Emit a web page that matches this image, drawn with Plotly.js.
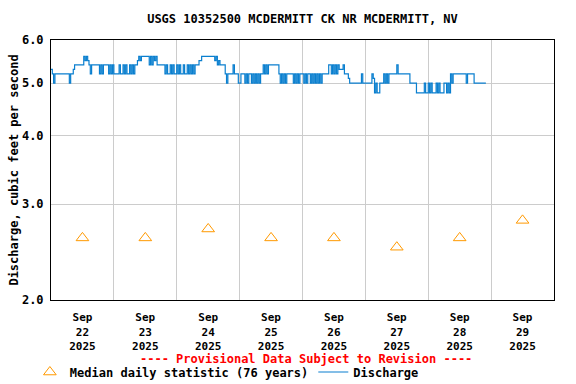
<!DOCTYPE html>
<html><head><meta charset="utf-8">
<script src="https://cdn.plot.ly/plotly-3.0.1.min.js"></script>
<style>html,body{margin:0;padding:0;background:#fff}#chart{width:576px;height:384px}</style>
</head><body><div id="chart"></div>
<script>
// Discharge (cfs), 30-minute readings starting 2025-09-22 00:00
const flowSep22 = [5.3,5.2,5.0,5.2,5.2,5.2,5.2,5.2,5.2,5.2,5.2,5.2,5.2,5.2,5.0,5.2,5.2,5.3,5.4,5.4,5.4,5.4,5.4,5.4,5.4,5.6,5.5,5.6,5.5,5.4,5.2,5.4,5.4,5.4,5.4,5.4,5.4,5.2,5.4,5.2,5.4,5.4,5.4,5.4,5.2,5.4,5.2,5.4];
const flowSep23 = [5.2,5.2,5.2,5.2,5.4,5.2,5.2,5.4,5.2,5.4,5.2,5.2,5.4,5.2,5.4,5.2,5.4,5.4,5.5,5.6,5.5,5.6,5.6,5.6,5.6,5.6,5.6,5.4,5.6,5.4,5.6,5.5,5.6,5.4,5.4,5.4,5.4,5.4,5.4,5.2,5.4,5.2,5.2,5.4,5.2,5.4,5.2,5.2];
const flowSep24 = [5.4,5.2,5.4,5.2,5.2,5.4,5.2,5.2,5.4,5.2,5.4,5.2,5.4,5.2,5.4,5.4,5.4,5.5,5.5,5.6,5.6,5.6,5.6,5.6,5.6,5.6,5.6,5.6,5.6,5.5,5.6,5.4,5.5,5.4,5.4,5.4,5.4,5.2,5.0,5.2,5.2,5.2,5.2,5.4,5.2,5.2,5.2,5.0];
const flowSep25 = [5.0,5.2,5.2,5.2,5.0,5.2,5.0,5.2,5.2,5.0,5.2,5.0,5.2,5.0,5.2,5.0,5.2,5.2,5.4,5.2,5.4,5.2,5.4,5.4,5.4,5.4,5.4,5.4,5.4,5.4,5.2,5.0,5.2,5.0,5.2,5.0,5.2,5.2,5.2,5.2,5.2,5.0,5.2,5.0,5.2,5.0,5.2,5.2];
const flowSep26 = [5.2,5.0,5.2,5.0,5.2,5.2,5.0,5.2,5.0,5.2,5.0,5.2,5.0,5.2,5.0,5.2,5.2,5.2,5.2,5.2,5.4,5.4,5.2,5.4,5.2,5.4,5.2,5.4,5.3,5.3,5.3,5.4,5.2,5.2,5.2,5.1,5.0,5.0,5.0,5.0,5.0,5.0,5.0,5.0,5.0,5.2,5.0,5.0];
const flowSep27 = [5.0,5.0,5.0,5.0,5.0,5.2,5.1,4.8,5.0,4.8,4.8,5.0,5.0,5.0,5.2,5.0,5.2,5.0,5.2,5.2,5.2,5.2,5.2,5.2,5.4,5.2,5.2,5.2,5.2,5.2,5.2,5.2,5.2,5.2,5.0,5.0,5.0,5.0,5.0,4.8,4.8,4.8,4.8,4.8,4.8,5.0,4.8,4.8];
const flowSep28 = [5.0,4.8,5.0,4.8,4.8,4.8,5.0,4.8,5.0,4.8,4.8,4.8,5.0,5.0,4.8,5.0,4.8,5.2,5.0,5.2,5.2,5.2,5.2,5.2,5.2,5.2,5.2,5.2,5.2,5.0,5.2,5.2,5.2,5.2,5.2,5.0,5.0,5.0,5.0,5.0,5.0,5.0,5.0,5.0,5.0];

// Median daily statistic (76 years), plotted at noon of each day
const medianDays = ['2025-09-22','2025-09-23','2025-09-24','2025-09-25','2025-09-26','2025-09-27','2025-09-28','2025-09-29'];
const medianValues = [2.6, 2.6, 2.7, 2.6, 2.6, 2.5, 2.6, 2.8];

const yTickVals = [2, 3, 4, 5, 6];
const yTickText = ['2.0', '3.0', '4.0', '5.0', '6.0'];

const startMs = Date.UTC(2025, 8, 22, 0, 0);
const stepMs = 30 * 60 * 1000;
const flowValues = [].concat(flowSep22, flowSep23, flowSep24, flowSep25, flowSep26, flowSep27, flowSep28);
const fmt = ms => new Date(ms).toISOString().slice(0, 16).replace('T', ' ');
const flowTimes = flowValues.map((v, i) => fmt(startMs + i * stepMs));
const medianTimes = medianDays.map(d => d + ' 12:00');

const FONT = 'DejaVu Sans Mono, Liberation Mono, monospace';

const traces = [
  {
    x: medianTimes, y: medianValues, type: 'scatter', mode: 'markers',
    name: 'Median daily statistic (76 years)',
    marker: {symbol: 'triangle-up-open', size: 11, color: '#ff9900', line: {width: 1, color: '#ff9900'}},
    hoverinfo: 'skip'
  },
  {
    x: flowTimes, y: flowValues, type: 'scatter', mode: 'lines',
    name: 'Discharge',
    line: {color: '#0a7fcf', width: 1.2, shape: 'hv'},
    hoverinfo: 'skip'
  }
];

const layout = {
  width: 576, height: 384,
  margin: {l: 51, r: 22, t: 40, b: 84, autoexpand: false},
  paper_bgcolor: '#ffffff', plot_bgcolor: '#ffffff',
  font: {family: FONT, size: 12, color: '#000', weight: 'bold'},
  title: {
    text: 'USGS 10352500 MCDERMITT CK NR MCDERMITT, NV',
    font: {family: FONT, size: 12, color: '#000', weight: 'bold'},
    x: 0.5, xref: 'paper', y: 1 - 19 / 384, yref: 'container', yanchor: 'middle'
  },
  xaxis: {
    type: 'date',
    range: ['2025-09-22 00:00', '2025-09-30 00:00'],
    tick0: '2025-09-22', dtick: 86400000,
    ticklabelmode: 'period',
    tickformat: '%b<br>%d<br>%Y',
    ticks: '', ticklabelstandoff: 7,
    showgrid: true, gridcolor: '#cccccc', gridwidth: 1,
    showline: true, mirror: true, linecolor: '#000', linewidth: 1,
    zeroline: false, fixedrange: true,
    tickfont: {family: FONT, size: 11, color: '#000', weight: 'bold'}
  },
  yaxis: {
    type: 'log',
    range: [Math.log10(2), Math.log10(6)],
    tickvals: yTickVals, ticktext: yTickText,
    ticks: '', ticklabelstandoff: 4,
    showgrid: true, gridcolor: '#cccccc', gridwidth: 1,
    showline: true, mirror: true, linecolor: '#000', linewidth: 1,
    zeroline: false, fixedrange: true,
    tickfont: {family: FONT, size: 12, color: '#000', weight: 'bold'},
    title: {text: 'Discharge, cubic feet per second', standoff: 0,
            font: {family: FONT, size: 12, color: '#000', weight: 'bold'}}
  },
  showlegend: true,
  legend: {
    orientation: 'h', x: -0.042, xanchor: 'left', y: -0.277, yanchor: 'middle',
    font: {family: FONT, size: 12, color: '#000', weight: 'bold'},
    bgcolor: 'rgba(0,0,0,0)', borderwidth: 0, itemwidth: 30, tracegroupgap: 0
  },
  annotations: [{
    text: '---- Provisional Data Subject to Revision ----',
    xref: 'paper', yref: 'paper', x: 0.507, y: -0.226, xanchor: 'center', yanchor: 'middle',
    showarrow: false,
    font: {family: FONT, size: 12, color: '#ff0000', weight: 'bold'}
  }]
};

Plotly.newPlot('chart', traces, layout, {staticPlot: true, displayModeBar: false});
</script>
</body></html>
